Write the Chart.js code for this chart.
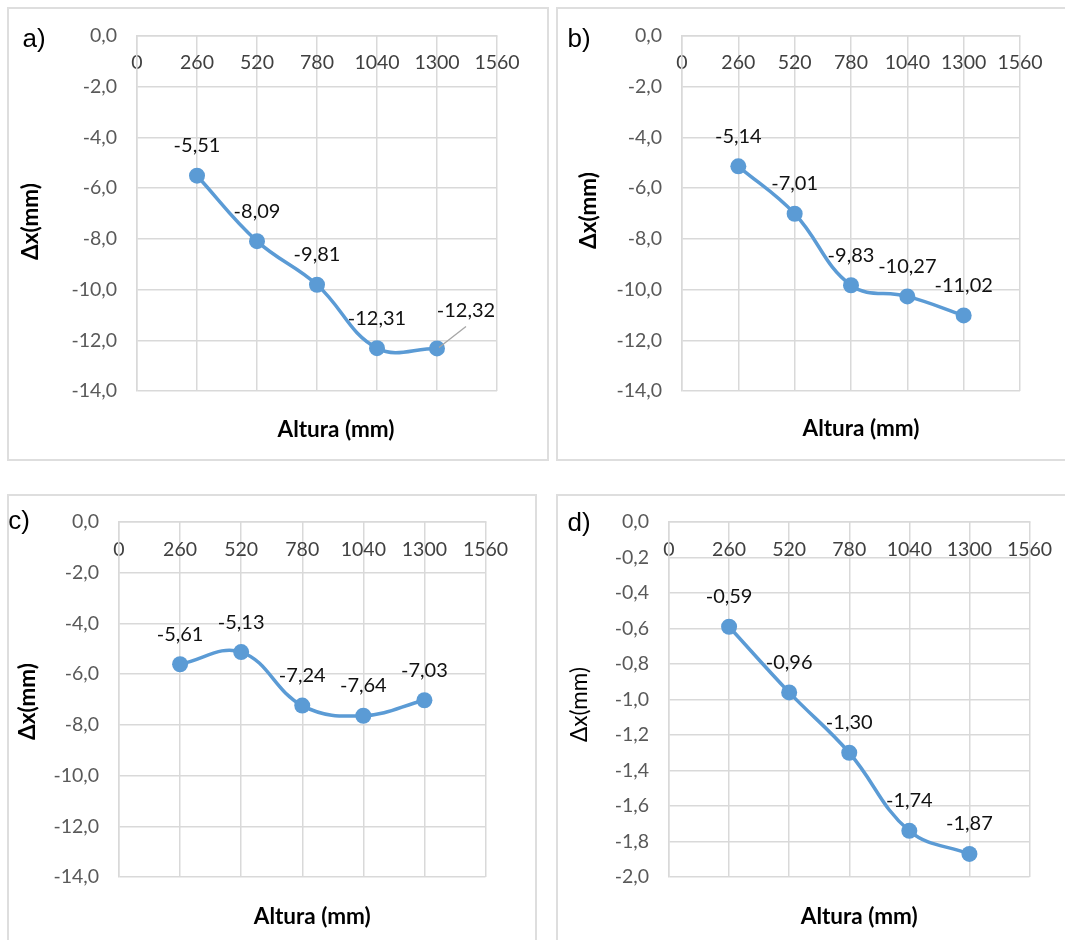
<!DOCTYPE html>
<html>
<head>
<meta charset="utf-8">
<script src="https://cdn.jsdelivr.net/npm/chart.js@4.4.1/dist/chart.umd.min.js"></script>
<style>
  body { margin: 0; background: #fff; width: 1065px; height: 940px; overflow: hidden; position: relative; }
  .panel { position: absolute; border: 2px solid #dedede; box-sizing: border-box; }
  canvas { position: absolute; }
</style>
</head>
<body>
<div class="panel" style="left:7px;top:7px;width:542px;height:454px"></div>
<div class="panel" style="left:556px;top:7px;width:600px;height:454px"></div>
<div class="panel" style="left:7px;top:494px;width:530px;height:500px"></div>
<div class="panel" style="left:556px;top:494px;width:600px;height:500px"></div>

<canvas id="chartA" width="539" height="451" style="left:8px;top:8px"></canvas>
<canvas id="chartB" width="507" height="451" style="left:558px;top:8px"></canvas>
<canvas id="chartC" width="527" height="445" style="left:8px;top:495px"></canvas>
<canvas id="chartD" width="507" height="445" style="left:558px;top:495px"></canvas>

<script>
console.log("charts loading");

// data
const alturas = [260, 520, 780, 1040, 1300];
const dxA = [-5.51, -8.09, -9.81, -12.31, -12.32];
const dxB = [-5.14, -7.01, -9.83, -10.27, -11.02];
const dxC = [-5.61, -5.13, -7.24, -7.64, -7.03];
const dxD = [-0.59, -0.96, -1.30, -1.74, -1.87];
const xTitle = 'Altura (mm)';
const yTitle = 'Δx(mm)';

const blue = '#5b9bd5';
const gridGray = '#d9d9d9';

Chart.defaults.font.family = 'Lato';
Chart.defaults.animation = false;

function comma(v, d) {
    return v.toFixed(d).replace('.', ',');
}

// value labels above each point (optional offset + leader line)
const valueLabels = {
    id: 'valueLabels',
    afterDatasetsDraw(chart, args, opts) {
        const ctx = chart.ctx;
        const meta = chart.getDatasetMeta(0);
        const pts = chart.data.datasets[0].data;
        ctx.save();
        ctx.font = '20px Lato';
        ctx.fillStyle = '#111';
        ctx.textAlign = 'center';
        ctx.textBaseline = 'middle';
        meta.data.forEach((el, i) => {
            const off = (opts.offsets && opts.offsets[i]) || { dx: 0, dy: -30 };
            const lx = el.x + off.dx;
            const ly = el.y + off.dy;
            if (off.leader) {
                ctx.strokeStyle = '#a6a6a6';
                ctx.lineWidth = 1.3;
                ctx.beginPath();
                ctx.moveTo(el.x + 2, el.y - 1);
                ctx.lineTo(lx, ly + 16);
                ctx.stroke();
            }
            ctx.fillText(comma(pts[i].y, 2), lx, ly);
        });
        ctx.restore();
    }
};

// panel letter and axis titles
const panelText = {
    id: 'panelText',
    afterDraw(chart, args, o) {
        const ctx = chart.ctx;
        const a = chart.chartArea;
        ctx.save();
        ctx.fillStyle = '#000';
        ctx.textAlign = 'center';
        ctx.textBaseline = 'middle';
        ctx.font = '26px "Liberation Sans"';
        ctx.fillText(o.letter, o.letterX, o.letterY);
        ctx.font = 'bold 22.5px Lato';
        ctx.fillText(xTitle, (a.left + a.right) / 2 + o.xdx, a.bottom + o.xdy);
        ctx.translate(a.left + o.ydx, (a.top + a.bottom) / 2 + o.ydy);
        ctx.rotate(-Math.PI / 2);
        ctx.font = (o.yBold ? 'bold ' : '') + '22.5px Lato';
        ctx.fillText(yTitle, 0, 0);
        ctx.restore();
    }
};

function makeChart(id, values, g) {
    const ctx = document.getElementById(id).getContext('2d');
    return new Chart(ctx, {
        type: 'line',
        data: {
            datasets: [{
                data: alturas.map((x, i) => ({ x: x, y: values[i] })),
                borderColor: blue,
                backgroundColor: blue,
                borderWidth: 3.5,
                pointRadius: 8,
                pointBorderWidth: 0,
                pointBackgroundColor: blue,
                tension: 0.4,
                fill: false
            }]
        },
        options: {
            responsive: false,
            layout: { padding: g.pad },
            plugins: {
                legend: { display: false },
                tooltip: { enabled: false },
                valueLabels: { offsets: g.offsets },
                panelText: g.text
            },
            scales: {
                x: {
                    type: 'linear',
                    position: { y: 0 },
                    min: 0,
                    max: 1560,
                    grid: { color: gridGray, lineWidth: 1.5, drawTicks: false },
                    border: { color: gridGray, width: 1.5 },
                    ticks: {
                        stepSize: 260,
                        padding: g.xPad,
                        color: '#404040',
                        font: { size: 19.5 },
                        maxRotation: 0,
                        callback: v => String(v)
                    },
                    afterFit: s => { s.paddingLeft = 0; s.paddingRight = 0; }
                },
                y: {
                    min: g.yMin,
                    max: 0,
                    grid: { color: gridGray, lineWidth: 1.5, drawTicks: false },
                    border: { color: gridGray, width: 1.5 },
                    ticks: {
                        stepSize: g.yStep,
                        padding: 20,
                        color: '#595959',
                        font: { size: 19.5 },
                        callback: v => comma(v, 1)
                    },
                    afterFit: s => { s.width = g.yW; s.paddingTop = 0; s.paddingBottom = 0; }
                }
            }
        },
        plugins: [valueLabels, panelText]
    });
}

makeChart('chartA', dxA, {
    yMin: -14, yStep: 2, yW: 129, xPad: 15,
    pad: { top: 28, right: 50, bottom: 68, left: 0 },
    offsets: { 4: { dx: 29, dy: -38, leader: true } },
    text: { letter: 'a)', letterX: 26, letterY: 32, xdx: 19, xdy: 39, ydx: -106, ydy: 8, yBold: true }
});
makeChart('chartB', dxB, {
    yMin: -14, yStep: 2, yW: 124, xPad: 15,
    pad: { top: 28, right: 45, bottom: 68, left: 0 },
    text: { letter: 'b)', letterX: 21, letterY: 32, xdx: 10, xdy: 38, ydx: -93, ydy: -3, yBold: true }
});
makeChart('chartC', dxC, {
    yMin: -14, yStep: 2, yW: 111, xPad: 16,
    pad: { top: 27, right: 49.5, bottom: 63, left: 0 },
    text: { letter: 'c)', letterX: 11, letterY: 27, xdx: 10, xdy: 40, ydx: -91.5, ydy: 2, yBold: true }
});
makeChart('chartD', dxD, {
    yMin: -2, yStep: 0.2, yW: 111, xPad: 16,
    pad: { top: 27, right: 35.5, bottom: 63, left: 0 },
    text: { letter: 'd)', letterX: 21, letterY: 29, xdx: 10, xdy: 40, ydx: -89, ydy: 5, yBold: false }
});
</script>
</body>
</html>
